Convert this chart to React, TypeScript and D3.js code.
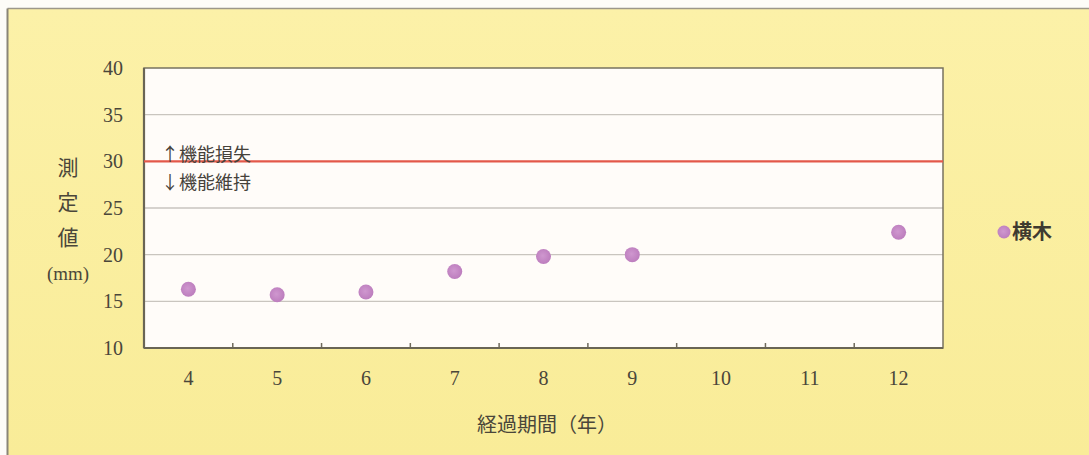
import React from "react";
import * as d3 from "d3";

// Elapsed years and measured values (mm) for the crossbeam
const years = ["4", "5", "6", "7", "8", "9", "10", "11", "12"];
const pointYears = ["4", "5", "6", "7", "8", "9", "12"];
const pointValues = [16.3, 15.7, 16.0, 18.2, 19.8, 20.0, 22.4];
const yTicks = [10, 15, 20, 25, 30, 35, 40];
const thresholdValue = 30;
const seriesName = "横木";
const upperLabel = "↑機能損失";
const lowerLabel = "↓機能維持";
const yTitleChars = ["測", "定", "値"];
const yTitleUnit = "(mm)";
const xTitle = "経過期間（年）";

const W = 1089;
const H = 455;
const plot = { left: 144, right: 943, top: 68, bottom: 348 };

const serif = "'Liberation Serif', 'DejaVu Serif', serif";
const jp = "'Noto Sans CJK JP', sans-serif";

export default function App() {
  const x = d3
    .scaleBand<string>()
    .domain(years)
    .range([plot.left, plot.right])
    .padding(0);
  const y = d3.scaleLinear().domain([10, 40]).range([plot.bottom, plot.top]);
  const cx = (k: string) => (x(k) as number) + x.bandwidth() / 2;

  return (
    <div style={{ position: "absolute", left: 0, top: 0 }}>
      <svg width={W} height={H} style={{ display: "block" }}>
        <defs>
          <linearGradient id="panelBg" x1="0" y1="0" x2="0" y2="1">
            <stop offset="0" stopColor="#fcf1a8" />
            <stop offset="1" stopColor="#f9ec98" />
          </linearGradient>
          <radialGradient id="dotFill" cx="0.45" cy="0.45" r="0.6">
            <stop offset="0" stopColor="#cf97cf" />
            <stop offset="1" stopColor="#bb7bbc" />
          </radialGradient>
        </defs>
        <rect x={0} y={0} width={W} height={H} fill="#fdfcf8" />
        {/* yellow panel */}
        <rect x={8} y={9} width={W - 8} height={H - 9} fill="url(#panelBg)" />
        <line x1={7.5} y1={8.5} x2={W} y2={8.5} stroke="#9c978a" strokeWidth={1.5} />
        <line x1={7.5} y1={8.5} x2={7.5} y2={H} stroke="#8a8577" strokeWidth={2} />

        {/* plot area */}
        <rect
          x={plot.left}
          y={plot.top}
          width={plot.right - plot.left}
          height={plot.bottom - plot.top}
          fill="#fffcf9"
        />
        {yTicks
          .filter((t) => t !== 10 && t !== 40 && t !== thresholdValue)
          .map((t) => (
            <line
              key={t}
              x1={plot.left}
              x2={plot.right}
              y1={y(t)}
              y2={y(t)}
              stroke="#c9c5bf"
              strokeWidth={1.3}
            />
          ))}
        {/* inner ticks at category boundaries */}
        {years.slice(1).map((k) => (
          <line
            key={k}
            x1={x(k) as number}
            x2={x(k) as number}
            y1={plot.bottom}
            y2={plot.bottom - 5}
            stroke="#6f6a5c"
            strokeWidth={1.5}
          />
        ))}
        <rect
          x={plot.left}
          y={plot.top}
          width={plot.right - plot.left}
          height={plot.bottom - plot.top}
          fill="none"
          stroke="#77725f"
          strokeWidth={1.5}
        />
        <line x1={plot.left} x2={plot.left} y1={plot.top} y2={plot.bottom} stroke="#6a6555" strokeWidth={2.2} />
        <line x1={plot.left} x2={plot.right} y1={plot.bottom} y2={plot.bottom} stroke="#6a6555" strokeWidth={2.2} />

        {/* threshold line */}
        <line
          x1={plot.left}
          x2={plot.right}
          y1={y(thresholdValue)}
          y2={y(thresholdValue)}
          stroke="#e3584a"
          strokeWidth={2.4}
        />
        <text x={161} y={161} fontFamily={jp} fontSize={18} fill="#45413a">
          {upperLabel}
        </text>
        <text x={161} y={189} fontFamily={jp} fontSize={18} fill="#45413a">
          {lowerLabel}
        </text>

        {/* points */}
        {pointYears.map((k, i) => (
          <circle key={k} cx={cx(k)} cy={y(pointValues[i])} r={7.5} fill="url(#dotFill)" />
        ))}

        {/* y tick labels */}
        {yTicks.map((t) => (
          <text
            key={t}
            x={123}
            y={y(t)}
            dy="0.35em"
            textAnchor="end"
            fontFamily={serif}
            fontSize={20}
            fill="#4a463a"
          >
            {t}
          </text>
        ))}
        {/* x tick labels */}
        {years.map((k) => (
          <text
            key={k}
            x={cx(k)}
            y={378}
            dy="0.35em"
            textAnchor="middle"
            fontFamily={serif}
            fontSize={20}
            fill="#4a463a"
          >
            {k}
          </text>
        ))}

        {/* y axis title */}
        {yTitleChars.map((c, i) => (
          <text
            key={c}
            x={68}
            y={168 + i * 35}
            dy="0.35em"
            textAnchor="middle"
            fontFamily={jp}
            fontSize={21}
            fill="#4a463a"
          >
            {c}
          </text>
        ))}
        <text
          x={68}
          y={273}
          dy="0.35em"
          textAnchor="middle"
          fontFamily={serif}
          fontSize={19}
          textLength={42}
          lengthAdjust="spacingAndGlyphs"
          fill="#4a463a"
        >
          {yTitleUnit}
        </text>

        {/* x axis title */}
        <text x={547} y={425} dy="0.35em" textAnchor="middle" fontFamily={jp} fontSize={20} fill="#4a463a">
          {xTitle}
        </text>

        {/* legend */}
        <circle cx={1004} cy={232} r={6.5} fill="url(#dotFill)" />
        <text x={1012} y={232} dy="0.35em" fontFamily={jp} fontWeight="bold" fontSize={20} fill="#3e3a30">
          {seriesName}
        </text>
      </svg>
    </div>
  );
}
